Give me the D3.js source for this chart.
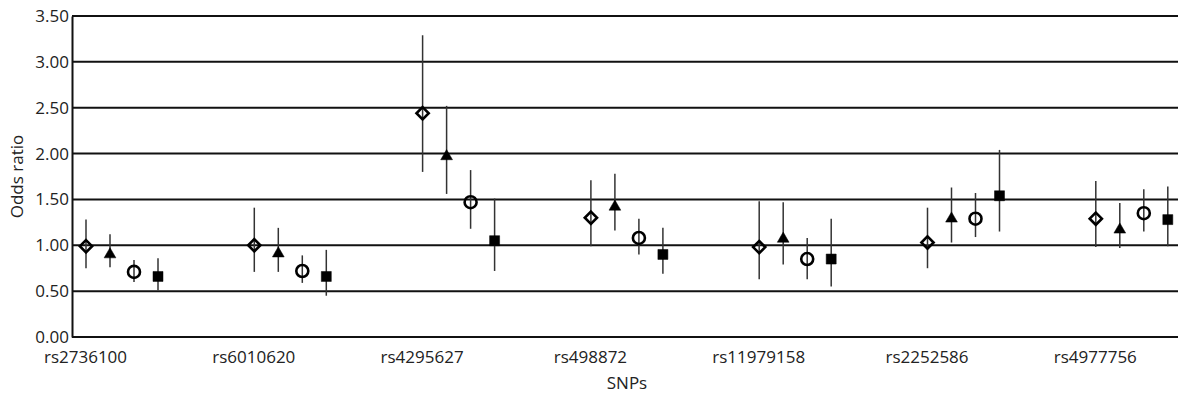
<!DOCTYPE html>
<html>
<head>
<meta charset="utf-8">
<script src="https://cdn.jsdelivr.net/npm/d3@7"></script>
<style>
  body { margin: 0; background: #fff; }
  text { font-family: "Open Sans", sans-serif; fill: #222; }
</style>
</head>
<body>
<script>
// SNP categories along the x axis
const snps = ["rs2736100", "rs6010620", "rs4295627", "rs498872", "rs11979158", "rs2252586", "rs4977756"];
const yTicks = [0, 0.5, 1, 1.5, 2, 2.5, 3, 3.5];
const seriesKeys = ["diamond", "triangle", "circle", "square"];

// odds ratio with lower / upper CI, one array per marker series
const diamondOR   = [0.99, 1.00, 2.44, 1.30, 0.98, 1.03, 1.29];
const diamondLow  = [0.75, 0.71, 1.80, 0.99, 0.63, 0.75, 0.98];
const diamondHigh = [1.28, 1.41, 3.29, 1.71, 1.48, 1.41, 1.70];

const triangleOR   = [0.90, 0.91, 1.97, 1.42, 1.07, 1.29, 1.17];
const triangleLow  = [0.76, 0.71, 1.56, 1.16, 0.79, 1.03, 0.97];
const triangleHigh = [1.12, 1.19, 2.52, 1.78, 1.47, 1.63, 1.46];

const circleOR   = [0.71, 0.72, 1.47, 1.08, 0.85, 1.29, 1.35];
const circleLow  = [0.60, 0.59, 1.18, 0.90, 0.63, 1.09, 1.15];
const circleHigh = [0.84, 0.89, 1.82, 1.29, 1.08, 1.57, 1.61];

const squareOR   = [0.66, 0.66, 1.05, 0.90, 0.85, 1.54, 1.28];
const squareLow  = [0.51, 0.45, 0.72, 0.69, 0.55, 1.15, 0.99];
const squareHigh = [0.86, 0.95, 1.51, 1.19, 1.29, 2.04, 1.64];

const width = 1178, height = 395;
const plotLeft = 72, plotTop = 16, plotBottom = 337;
const fontSize = "17px";

const svg = d3.select("body").append("svg")
  .attr("width", width)
  .attr("height", height);

const y = d3.scaleLinear().domain([0, 3.5]).range([plotBottom, plotTop]);
const x = d3.scalePoint().domain(snps).range([86, 86 + 6 * 168.3]);
const xOffset = d3.scalePoint().domain(seriesKeys).range([0, 72]);

// build rows from the arrays
const series = [
  { key: "diamond", or: diamondOR, low: diamondLow, high: diamondHigh },
  { key: "triangle", or: triangleOR, low: triangleLow, high: triangleHigh },
  { key: "circle", or: circleOR, low: circleLow, high: circleHigh },
  { key: "square", or: squareOR, low: squareLow, high: squareHigh },
];
const rows = [];
series.forEach(s => {
  snps.forEach((snp, i) => {
    rows.push({ key: s.key, snp: snp, or: s.or[i], low: s.low[i], high: s.high[i] });
  });
});

// gridlines
svg.append("g")
  .selectAll("line")
  .data(yTicks)
  .enter()
  .append("line")
  .attr("x1", plotLeft)
  .attr("x2", width)
  .attr("y1", d => y(d))
  .attr("y2", d => y(d))
  .attr("stroke", "#111")
  .attr("stroke-width", 2);

// y axis
const yAxis = svg.append("g")
  .attr("transform", "translate(" + plotLeft + ",0)")
  .call(d3.axisLeft(y).tickValues(yTicks).tickFormat(d3.format(".2f")).tickSize(0).tickPadding(3));
yAxis.select(".domain").attr("stroke", "#111").attr("stroke-width", 2);
yAxis.selectAll("text")
  .style("font-family", "'Open Sans', sans-serif")
  .style("font-size", fontSize)
  .attr("fill", "#222");

// x axis labels
const xAxis = svg.append("g")
  .attr("transform", "translate(-1," + plotBottom + ")")
  .call(d3.axisBottom(x).tickSize(0).tickPadding(14));
xAxis.select(".domain").remove();
xAxis.selectAll("text")
  .style("font-family", "'Open Sans', sans-serif")
  .style("font-size", fontSize)
  .attr("fill", "#222");

// axis titles
svg.append("text")
  .attr("transform", "translate(23," + ((plotTop + plotBottom) / 2) + ") rotate(-90)")
  .attr("text-anchor", "middle")
  .style("font-size", fontSize)
  .text("Odds ratio");

svg.append("text")
  .attr("x", (plotLeft + width) / 2 + 2)
  .attr("y", 389)
  .attr("text-anchor", "middle")
  .style("font-size", fontSize)
  .text("SNPs");

const px = d => x(d.snp) + xOffset(d.key);

// error bars
svg.append("g")
  .selectAll("line")
  .data(rows)
  .enter()
  .append("line")
  .attr("x1", px)
  .attr("x2", px)
  .attr("y1", d => y(d.low))
  .attr("y2", d => y(d.high))
  .attr("stroke", "#333")
  .attr("stroke-width", 1.5);

// markers
const symbolFor = {
  diamond: d3.symbol().type(d3.symbolDiamond2).size(95),
  triangle: d3.symbol().type(d3.symbolTriangle).size(60),
  square: d3.symbol().type(d3.symbolSquare).size(100),
};

const markers = svg.append("g");
markers.selectAll("circle")
  .data(rows.filter(d => d.key === "circle"))
  .enter()
  .append("circle")
  .attr("cx", px)
  .attr("cy", d => y(d.or))
  .attr("r", 6)
  .attr("fill", "none")
  .attr("stroke", "#000")
  .attr("stroke-width", 2.6);

markers.selectAll("path")
  .data(rows.filter(d => d.key !== "circle"))
  .enter()
  .append("path")
  .attr("transform", d => "translate(" + px(d) + "," + y(d.or) + ")")
  .attr("d", d => symbolFor[d.key]())
  .attr("fill", d => d.key === "diamond" ? "none" : "#000")
  .attr("stroke", "#000")
  .attr("stroke-width", d => d.key === "diamond" ? 2.6 : 0.5);
</script>
</body>
</html>
